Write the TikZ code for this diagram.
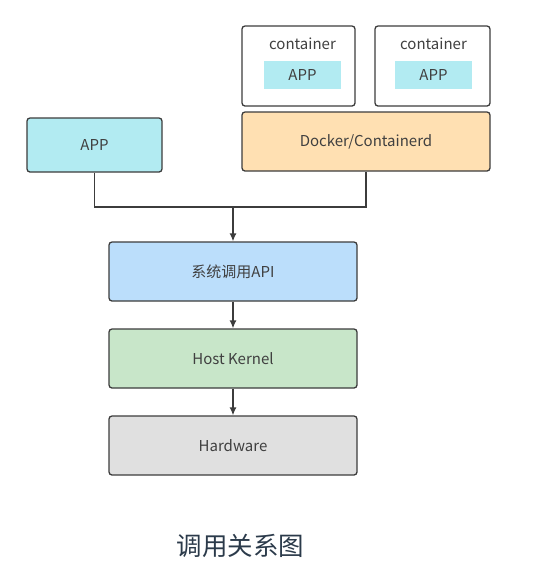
\documentclass[tikz,border=0pt]{standalone}
\usepackage{fontspec}
\setmainfont{Noto Sans CJK SC}
\usetikzlibrary{arrows.meta}
\definecolor{edge}{HTML}{3C3C3C}
\definecolor{txt}{HTML}{404040}
\definecolor{appfill}{HTML}{B2EBF2}
\definecolor{dockfill}{HTML}{FFE0B2}
\definecolor{apifill}{HTML}{BBDEFB}
\definecolor{kernfill}{HTML}{C8E6C9}
\definecolor{hwfill}{HTML}{E0E0E0}
\definecolor{captxt}{HTML}{2B3A4A}

\begin{document}
\begin{tikzpicture}[
  x=1pt, y=-1pt,
  bnode/.style={draw=edge,line width=1.3pt,rounded corners=3pt,text=txt,
    font=\fontsize{15}{18}\selectfont,inner sep=0pt},
  inode/.style={fill=appfill,text=txt,font=\fontsize{15}{18}\selectfont,
    minimum width=77pt,minimum height=28pt,inner sep=0pt},
  arr/.style={draw=edge,line width=1.3pt,-{Latex[length=8pt,width=7pt]}}
]
  \useasboundingbox (0,0) rectangle (539,582);

  % containers
  \node[bnode,fill=white,minimum width=113pt,minimum height=80pt] (c1) at (298.5,66) {};
  \node[bnode,fill=white,minimum width=115pt,minimum height=80pt] (c2) at (432.5,66) {};
  \node[text=txt,font=\fontsize{15}{18}\selectfont] (c1t) at (302.5,44) {container};
  \node[text=txt,font=\fontsize{15}{18}\selectfont] (c2t) at (433.5,44) {container};
  \node[inode] (a1) at (302.5,75) {APP};
  \node[inode] (a2) at (433.5,75) {APP};

  % upper layer
  \node[bnode,fill=appfill,minimum width=135pt,minimum height=54pt] (app) at (94.5,145) {APP};
  \node[bnode,fill=dockfill,minimum width=248pt,minimum height=59pt] (docker) at (366,141.5) {Docker/Containerd};

  % lower layers
  \node[bnode,fill=apifill,minimum width=248pt,minimum height=59pt] (api) at (233,271.5) {系统调用API};
  \node[bnode,fill=kernfill,minimum width=248pt,minimum height=59pt] (kernel) at (233,358.5) {Host Kernel};
  \node[bnode,fill=hwfill,minimum width=248pt,minimum height=59pt] (hw) at (233,445.5) {Hardware};

  % caption
  \node[text=captxt,font=\fontsize{25.5}{30}\selectfont] (cap) at (240.5,546) {调用关系图};

  % edges
  \coordinate (j) at (api.north |- 0,207);
  \draw[draw=edge,line width=1.3pt] (app.south) |- (j) -| (docker.south);
  \draw[arr] (j) -- (api.north);
  \draw[arr] (api) -- (kernel);
  \draw[arr] (kernel) -- (hw);
\end{tikzpicture}
\end{document}
